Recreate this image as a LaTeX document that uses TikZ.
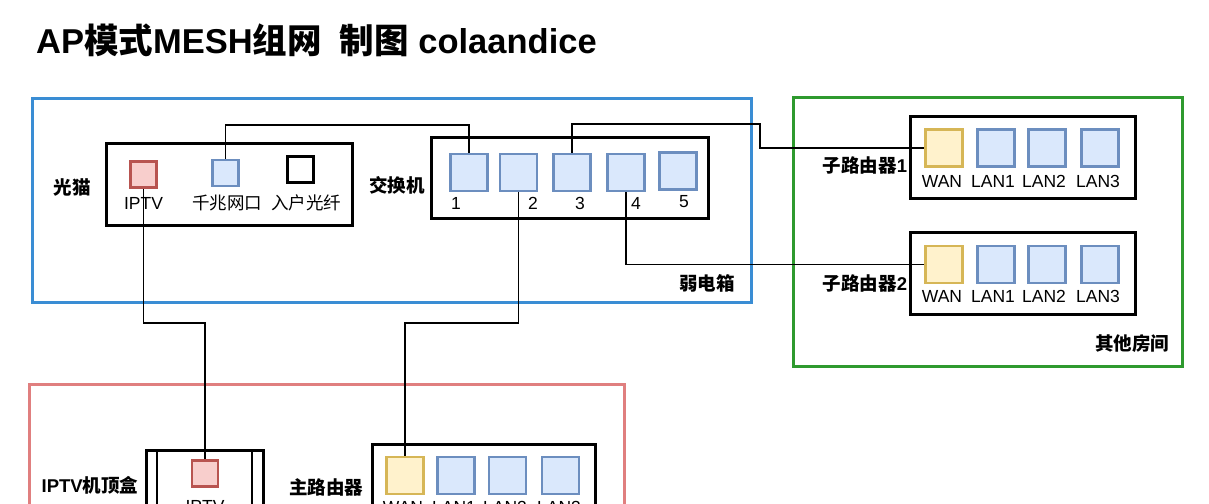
\documentclass[tikz,border=0pt]{standalone}
\usepackage{fontspec}
\setmainfont{Liberation Sans}
\newfontfamily\cjk{Noto Sans CJK SC}
\usetikzlibrary{calc}
\definecolor{grpblue}{HTML}{3A8DD4}
\definecolor{grpgreen}{HTML}{2E9A2E}
\definecolor{grpred}{HTML}{E07F7F}
\definecolor{pblue}{HTML}{DAE8FC}
\definecolor{pbluedraw}{HTML}{6C8EBF}
\definecolor{pyel}{HTML}{FFF2CC}
\definecolor{pyeldraw}{HTML}{D6B656}
\definecolor{pred}{HTML}{F8CECC}
\definecolor{preddraw}{HTML}{B85450}
\tikzset{
  txt/.style={inner sep=0pt, font=\fontsize{17.5}{20}\selectfont},
  lbl/.style={inner sep=0pt, font=\fontsize{18.5}{21}\selectfont\bfseries\cjk},
  bport/.style={draw=pbluedraw, fill=pblue, line width=2.6pt, minimum size=37pt, inner sep=0pt},
  yport/.style={draw=pyeldraw, fill=pyel, line width=2.6pt, minimum size=37pt, inner sep=0pt},
  rport/.style={draw=preddraw, fill=pred, line width=2.4pt, minimum size=26pt, inner sep=0pt},
  sport/.style={draw=pbluedraw, fill=pblue, line width=2.4pt, minimum size=26pt, inner sep=0pt},
  kport/.style={draw=black, fill=white, line width=3pt, minimum size=26pt, inner sep=0pt},
  devbox/.style={draw=black, line width=3pt, inner sep=0pt},
  grp/.style={line width=3pt, inner sep=0pt},
  wire/.style={draw=black, line width=1.4pt},
}
\begin{document}
\begin{tikzpicture}[x=1pt,y=-1pt]
\useasboundingbox (0,0) rectangle (1209,503);
\clip (0,0) rectangle (1209,503);
\fill[white] (0,0) rectangle (1209,503);

% title
\node[anchor=west, inner sep=0pt, font=\fontsize{34.5}{40}\selectfont\bfseries] (title) at (36,40)
  {AP{\cjk 模式}MESH{\cjk 组网}\hspace{18pt}{\cjk 制图} colaandice};

% groups
\node[grp, draw=grpblue, minimum width=719pt, minimum height=204pt] (gbox) at (391.5,200) {};
\node[grp, draw=grpgreen, minimum width=389pt, minimum height=269pt] (grbox) at (987.5,231.5) {};
\node[grp, draw=grpred, minimum width=595pt, minimum height=200pt] (rbox) at (326.5,484) {};

\node[lbl] (lruo) at (707,283) {弱电箱};
\node[lbl] (lqita) at (1132,344) {其他房间};

% modem
\node[devbox, minimum width=246pt, minimum height=82pt] (modem) at (229,184) {};
\node[lbl] (lmodem) at (72,187) {光猫};
\node[rport] (miptv) at (143.5,174.5) {};
\node[sport] (mgig) at (225.5,173) {};
\node[kport] (mfib) at (300.5,169.5) {};
\node[txt] (tmiptv) at (143.5,203) {IPTV};
\node[txt, font=\fontsize{17.5}{20}\selectfont\cjk] (tmgig) at (227,203) {千兆网口};
\node[txt, font=\fontsize{17.5}{20}\selectfont\cjk] (tmfib) at (306,203) {入户光纤};

% switch
\node[devbox, minimum width=277pt, minimum height=81pt] (sw) at (569.5,177.5) {};
\node[lbl] (lsw) at (397,185) {交换机};
\node[bport] (s1) at (469,172.5) {};
\node[bport] (s2) at (518.5,172.5) {};
\node[bport] (s3) at (572,172.5) {};
\node[bport] (s4) at (626,172.5) {};
\node[bport] (s5) at (678,171) {};
\node[txt] (t1) at (456,203) {1};
\node[txt] (t2) at (533,203) {2};
\node[txt] (t3) at (580,203) {3};
\node[txt] (t4) at (636,203) {4};
\node[txt] (t5) at (684,202) {5};

% sub routers
\foreach \n/\y/\ty in {1/148/181, 2/264.5/296} {
  \node[devbox, minimum width=225pt, minimum height=82pt] (sub\n) at (1022.5,\y+9) {};
  \node[yport] (sub\n wan) at (944,\y) {};
  \node[bport] (sub\n l1) at (996,\y) {};
  \node[bport] (sub\n l2) at (1047,\y) {};
  \node[bport] (sub\n l3) at (1100,\y) {};
  \node[txt] (sub\n twan) at (942,\ty) {WAN};
  \node[txt] (sub\n tl1) at (993,\ty) {LAN1};
  \node[txt] (sub\n tl2) at (1044,\ty) {LAN2};
  \node[txt] (sub\n tl3) at (1098,\ty) {LAN3};
}
\node[lbl] (lsub1) at (865,165) {子路由器{\rmfamily 1}};
\node[lbl] (lsub2) at (865,283) {子路由器{\rmfamily 2}};

% main router
\node[devbox, minimum width=223pt, minimum height=100pt] (mr) at (483.5,494) {};
\node[lbl] (lmr) at (326,487) {主路由器};
\node[yport] (mrwan) at (405,475.5) {};
\node[bport] (mrl1) at (456,475.5) {};
\node[bport] (mrl2) at (507.5,475.5) {};
\node[bport] (mrl3) at (560.5,475.5) {};
\node[txt] (mrtwan) at (403,507) {WAN};
\node[txt] (mrtl1) at (454,507) {LAN1};
\node[txt] (mrtl2) at (505,507) {LAN2};
\node[txt] (mrtl3) at (559,507) {LAN3};

% set-top box
\node[devbox, minimum width=117pt, minimum height=100pt] (stb) at (204.5,500) {};
\draw[line width=2.5pt] (157,450) -- (157,560) (252,450) -- (252,560);
\node[lbl] (lstb) at (90,485) {{\rmfamily IPTV}机顶盒};
\node[rport] (stbiptv) at (205,473.5) {};
\node[txt] (tstb) at (205,506) {IPTV};

% connectors
\coordinate (yA) at (0,125);
\coordinate (yB) at (0,323);
\coordinate (k1) at (760,124);
\draw[wire] (mgig.north) -- (mgig.north |- yA) -| (s1.north);
\draw[wire] (s3.north) |- (k1) |- (sub1wan.west);
\draw[wire] (s4.south) |- (sub2wan.west);
\draw[wire] (s2.south) -- (s2.south |- yB) -| (mrwan.north);
\draw[wire] (miptv.south) -- (miptv.south |- yB) -| (stbiptv.north);
\end{tikzpicture}
\end{document}
